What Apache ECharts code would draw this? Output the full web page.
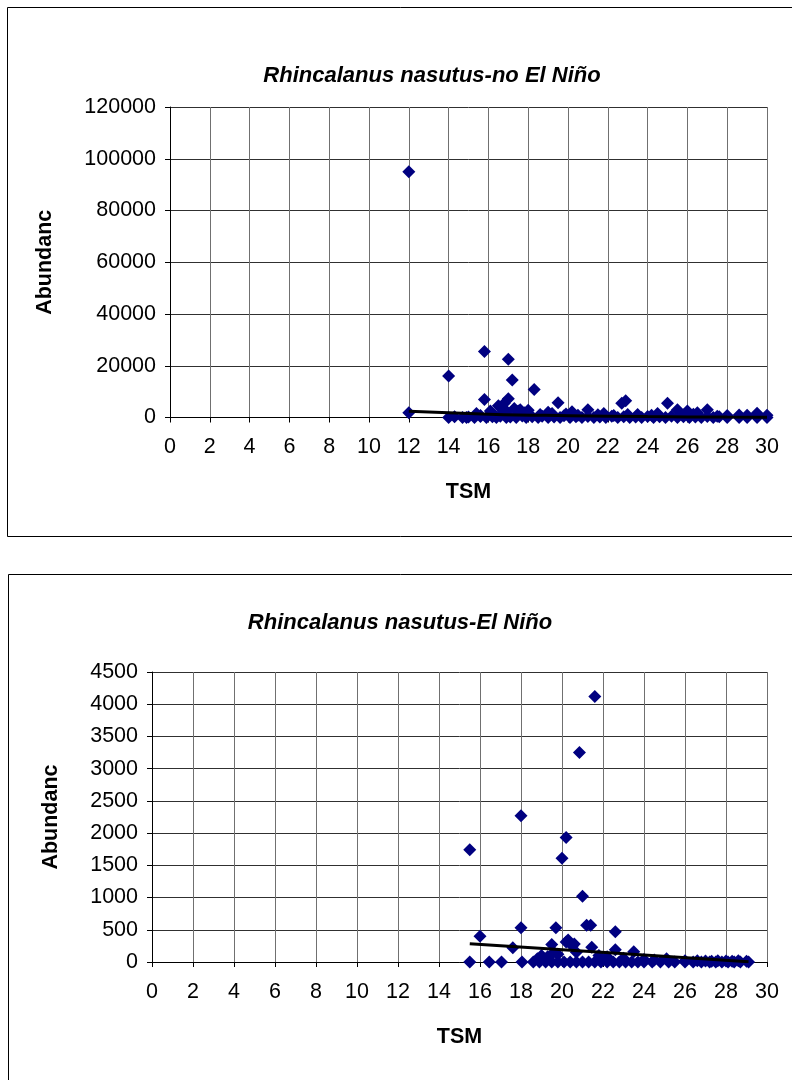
<!DOCTYPE html>
<html>
<head>
<meta charset="utf-8">
<script src="https://cdn.jsdelivr.net/npm/echarts@6/dist/echarts.min.js"></script>
<style>
html,body{margin:0;padding:0;background:#fff;}
#c{width:792px;height:1080px;}
</style>
</head>
<body>
<div id="c"></div>
<script>
// ---- Top chart: Rhincalanus nasutus - no El Niño ----
var titleTop = 'Rhincalanus nasutus-no El Niño';
var tsmTop = [12, 12, 14, 15.8, 15.8, 17, 17.2, 18.3, 16.5, 16.8, 17, 17.3, 17.5, 19.5, 22.7, 22.9, 25, 21, 16.1, 25.5, 26, 27, 18, 19, 20.2, 21.8, 23.5, 24.5, 26.5, 28, 28.6, 29, 29.5, 30, 27.5,
  14, 14.3, 14.7, 15, 15.3, 15.6, 15.9, 16.2, 16.4, 16.6, 16.9, 17.1, 17.4, 17.7, 17.9, 18.2, 18.5, 18.7, 19, 19.3, 19.6, 19.8, 20.1, 20.4, 20.7, 21, 21.3, 21.6, 21.9, 22.2, 22.5, 22.8, 23.1, 23.4, 23.7, 24, 24.3, 24.6, 24.9, 25.2, 25.5, 25.8, 26.1, 26.4, 26.7, 27, 27.3, 27.6, 28, 28.6, 29, 29.5, 30,
  14.9, 15.4, 16.3, 16.7, 17.6, 18.6, 19.2, 20.5, 21.5, 22.3, 23, 24.2, 25.8, 26.3, 15.6, 16.9, 17.8, 19.9];
var abundTop = [95000, 1800, 16000, 25500, 7000, 22500, 14500, 10800, 4500, 5500, 7200, 3500, 2500, 5700, 5500, 6500, 5500, 3000, 2500, 3000, 2500, 3000, 2800, 2000, 2200, 1500, 1200, 1500, 1800, 800, 1000, 900, 1600, 900, 500,
  0, 300, 0, 200, 0, 400, 0, 300, 0, 500, 0, 200, 0, 600, 0, 300, 0, 500, 0, 200, 0, 700, 0, 300, 0, 400, 0, 200, 0, 500, 0, 300, 0, 200, 0, 400, 0, 300, 0, 500, 0, 300, 0, 200, 0, 400, 0, 300, 0, 0, 0, 0, 0, 0,
  1500, 1000, 1800, 3000, 1200, 1500, 900, 1100, 800, 1200, 900, 1000, 1300, 800, 2500, 1800, 1400, 1000];
var trendTopX = [12, 16, 20, 24, 28, 30];
var trendTopY = [2400, 1300, 700, 350, 150, 100];
var yTicksTop = {min: 0, max: 120000, interval: 20000};

// ---- Bottom chart: Rhincalanus nasutus - El Niño ----
var titleBot = 'Rhincalanus nasutus-El Niño';
var tsmBot = [15.5, 16, 18, 18, 17.6, 19.7, 19.5, 20.2, 20, 20.2, 20.3, 20.85, 21.6, 21, 21.2, 21.4, 21.45, 22.6, 22.6, 23.5, 20.7, 19, 19.3, 18.8, 19.8, 21.8, 22.2, 23, 24, 24.5, 25.1, 26, 26.6, 27, 27.3, 27.6, 28, 28.3, 28.6, 29, 20.5, 20.6, 19.6, 21.9,
  15.5, 16.45, 17.05, 18.05, 18.6, 18.9, 19.2, 19.5, 19.8, 20.1, 20.4, 20.7, 21, 21.3, 21.6, 21.9, 22.2, 22.5, 22.8, 23.1, 23.4, 23.7, 24, 24.4, 24.8, 25.2, 25.5, 26, 26.4, 26.8, 27.2, 27.5, 27.8, 28.1, 28.4, 28.7, 29.1];
var abundBot = [1740, 400, 2270, 530, 220, 530, 270, 1930, 1610, 310, 340, 3250, 4120, 1020, 570, 570, 230, 470, 190, 160, 150, 100, 80, 50, 120, 100, 80, 60, 40, 30, 50, 20, 20, 15, 10, 20, 15, 10, 20, 10, 250, 280, 150, 60,
  0, 0, 0, 0, 0, 0, 0, 0, 0, 0, 0, 0, 0, 0, 0, 0, 0, 0, 0, 0, 0, 0, 0, 0, 0, 0, 0, 0, 0, 0, 0, 0, 0, 0, 0, 0, 0];
var trendBotX = [15.5, 29.1];
var trendBotY = [285, 5];
var yTicksBot = {min: 0, max: 4500, interval: 500};

var xTicks = {min: 0, max: 30, interval: 2};
var xName = 'TSM';
var yName = 'Abundanc';

function pairs(xs, ys) { return xs.map(function (x, i) { return [x, ys[i]]; }); }

var FONT = 'Liberation Sans, Arial, sans-serif';
var FS = 21.5;
var marker = '#000080';

function xAxis(gi, gap) {
  return {
    type: 'value', gridIndex: gi, min: xTicks.min, max: xTicks.max, interval: xTicks.interval,
    name: xName, nameLocation: 'middle', nameGap: gap,
    nameTextStyle: {fontFamily: FONT, fontSize: FS, fontWeight: 'bold', color: '#000'},
    axisLine: {lineStyle: {color: '#000', width: 1}},
    axisTick: {show: true, length: 5, lineStyle: {color: '#000'}},
    axisLabel: {fontFamily: FONT, fontSize: FS, color: '#000', margin: 19},
    splitLine: {show: true, lineStyle: {color: '#707070', width: 1}}
  };
}
function yAxis(gi, t, gap) {
  return {
    type: 'value', gridIndex: gi, min: t.min, max: t.max, interval: t.interval,
    name: yName, nameLocation: 'middle', nameGap: gap, nameRotate: 90,
    nameTextStyle: {fontFamily: FONT, fontSize: FS, fontWeight: 'bold', color: '#000'},
    axisLine: {show: true, lineStyle: {color: '#000', width: 1}},
    axisTick: {show: true, length: 5, lineStyle: {color: '#000'}},
    axisLabel: {fontFamily: FONT, fontSize: FS, color: '#000', margin: 14,
      formatter: function (v) { return String(v); }},
    splitLine: {show: true, lineStyle: {color: '#303030', width: 1}}
  };
}

var chart = echarts.init(document.getElementById('c'), null, {renderer: 'canvas'});
chart.setOption({
  animation: false,
  backgroundColor: '#fff',
  graphic: [
    {type: 'rect', shape: {x: 7.5, y: 7.5, width: 800, height: 529}, style: {fill: 'none', stroke: '#000', lineWidth: 1}, z: -10},
    {type: 'rect', shape: {x: 8.5, y: 574.5, width: 800, height: 600}, style: {fill: 'none', stroke: '#000', lineWidth: 1}, z: -10}
  ],
  title: [
    {text: titleTop, left: 432, top: 65, padding: 0, textAlign: 'center',
     textStyle: {fontFamily: FONT, fontSize: 22, fontWeight: 'bold', fontStyle: 'italic', color: '#000'}},
    {text: titleBot, left: 400, top: 612, padding: 0, textAlign: 'center',
     textStyle: {fontFamily: FONT, fontSize: 22, fontWeight: 'bold', fontStyle: 'italic', color: '#000'}}
  ],
  grid: [
    {left: 170, top: 107, width: 597, height: 310.5},
    {left: 152, top: 672, width: 615, height: 290}
  ],
  xAxis: [xAxis(0, 64), xAxis(1, 64)],
  yAxis: [yAxis(0, yTicksTop, 114), yAxis(1, yTicksBot, 90)],
  series: [
    {type: 'scatter', xAxisIndex: 0, yAxisIndex: 0, data: pairs(tsmTop, abundTop),
     symbol: 'diamond', symbolSize: 13, itemStyle: {color: marker, opacity: 1}, z: 3},
    {type: 'line', xAxisIndex: 0, yAxisIndex: 0, data: pairs(trendTopX, trendTopY), smooth: true,
     showSymbol: false, lineStyle: {color: '#000', width: 3}, z: 4},
    {type: 'scatter', xAxisIndex: 1, yAxisIndex: 1, data: pairs(tsmBot, abundBot),
     symbol: 'diamond', symbolSize: 13, itemStyle: {color: marker, opacity: 1}, z: 3},
    {type: 'line', xAxisIndex: 1, yAxisIndex: 1, data: pairs(trendBotX, trendBotY),
     showSymbol: false, lineStyle: {color: '#000', width: 3}, z: 4}
  ]
});
</script>
</body>
</html>
